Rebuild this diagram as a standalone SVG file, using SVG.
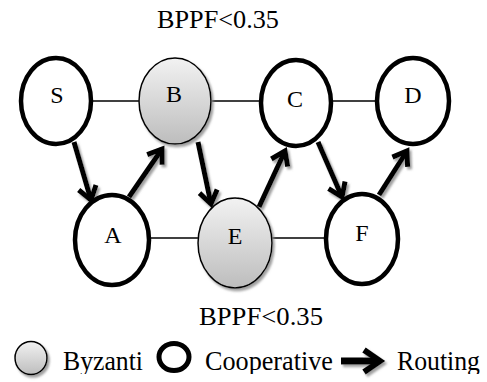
<svg xmlns="http://www.w3.org/2000/svg" width="487" height="382" viewBox="0 0 487 382">
<style>
.coop{fill:#fff;stroke:#000;stroke-width:4.5}
.byz{fill:url(#g);stroke:#000;stroke-width:1.5}
.lbl{font-size:24px;fill:#000;text-anchor:middle}
.cap{font-size:26px;fill:#000}
.leg{font-size:27px;fill:#000}
.edge{stroke:#000;stroke-width:1.5;fill:none}
.route{stroke:#000;stroke-width:5;fill:none;marker-end:url(#ah)}
</style>
<defs>
<linearGradient id="g" x1="0" y1="0" x2="0" y2="1">
<stop offset="0" stop-color="#f2f2f2"/>
<stop offset="1" stop-color="#bdbdbd"/>
</linearGradient>
<filter id="sh" filterUnits="userSpaceOnUse" x="0" y="0" width="487" height="382">
<feDropShadow dx="2" dy="2.5" stdDeviation="0.8" flood-color="#888" flood-opacity="0.8"/>
</filter>
<marker id="ah" markerUnits="userSpaceOnUse" viewBox="-20 -14 26 28" markerWidth="26" markerHeight="28" refX="0" refY="0" orient="auto">
<path d="M-13,-9 L0,0 L-13,9" fill="none" stroke="#000" stroke-width="5" stroke-linejoin="miter"/>
</marker>
<clipPath id="clipb"><rect x="0" y="0" width="487" height="374"/></clipPath>
</defs>
<g font-family="Liberation Serif, Times New Roman, DejaVu Serif, serif">
<text class="cap" x="157" y="28" textLength="122" lengthAdjust="spacingAndGlyphs">BPPF&lt;0.35</text>
<text class="cap" x="199" y="325" textLength="124" lengthAdjust="spacingAndGlyphs">BPPF&lt;0.35</text>
<g id="connectors">
<line class="edge" x1="93" y1="101" x2="139" y2="101"/>
<line class="edge" x1="212" y1="101" x2="259" y2="101"/>
<line class="edge" x1="333" y1="101" x2="376" y2="101"/>
<line class="edge" x1="151" y1="238" x2="199" y2="238"/>
<line class="edge" x1="272" y1="238" x2="326" y2="238"/>
<g filter="url(#sh)">
<line class="route" x1="74" y1="142" x2="91" y2="200"/>
<line class="route" x1="129" y1="197" x2="162" y2="149"/>
<line class="route" x1="198" y1="142" x2="211" y2="204"/>
<line class="route" x1="259" y1="207" x2="285" y2="151"/>
<line class="route" x1="318" y1="142" x2="342" y2="197"/>
<line class="route" x1="379" y1="195" x2="407" y2="151"/>
</g>
</g>
<g id="node-S"><ellipse class="coop" cx="56" cy="101" rx="35" ry="43"/><text class="lbl" x="57" y="103">S</text></g>
<g id="node-B"><ellipse class="byz" cx="175" cy="101" rx="36" ry="43" filter="url(#sh)"/><text class="lbl" x="174" y="102">B</text></g>
<g id="node-C"><ellipse class="coop" cx="296" cy="103" rx="35" ry="43"/><text class="lbl" x="295" y="107">C</text></g>
<g id="node-D"><ellipse class="coop" cx="413" cy="101" rx="36" ry="43"/><text class="lbl" x="413" y="103">D</text></g>
<g id="node-A"><ellipse class="coop" cx="112" cy="240" rx="37" ry="45"/><text class="lbl" x="113" y="243">A</text></g>
<g id="node-E"><ellipse class="byz" cx="235" cy="243" rx="37" ry="45" filter="url(#sh)"/><text class="lbl" x="235" y="244">E</text></g>
<g id="node-F"><ellipse class="coop" cx="362" cy="239" rx="36" ry="45"/><text class="lbl" x="362" y="241">F</text></g>
<g id="legend">
<ellipse class="byz" cx="31" cy="358" rx="16" ry="16.5" filter="url(#sh)"/>
<ellipse class="coop" cx="174" cy="357" rx="15" ry="13.5" style="stroke-width:5"/>
<g filter="url(#sh)">
<path d="M341,361 H377" stroke="#000" stroke-width="7" fill="none"/>
<path d="M364,350 L380,361 L364,372" stroke="#000" stroke-width="6" fill="none" stroke-linejoin="miter"/>
</g>
<g clip-path="url(#clipb)">
<text class="leg" x="63" y="370" textLength="80" lengthAdjust="spacingAndGlyphs">Byzanti</text>
<text class="leg" x="205" y="370" textLength="128" lengthAdjust="spacingAndGlyphs">Cooperative</text>
<text class="leg" x="397" y="370" textLength="83" lengthAdjust="spacingAndGlyphs">Routing</text>
</g>
</g>
</g>
</svg>
